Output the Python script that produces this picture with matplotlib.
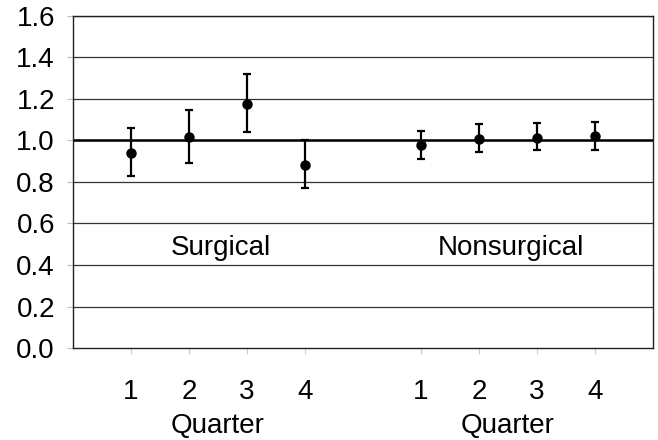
import matplotlib
matplotlib.use("Agg")
import matplotlib.pyplot as plt

plt.rcParams["font.family"] = ["Liberation Sans", "DejaVu Sans"]

# ── data ──────────────────────────────────────────────────────────────────────
quarters = ["1", "2", "3", "4"]
groups = ["Surgical", "Nonsurgical"]

surg_est = [0.94, 1.015, 1.175, 0.882]
surg_lo = [0.83, 0.89, 1.04, 0.773]
surg_hi = [1.062, 1.147, 1.32, 1.0]

nons_est = [0.978, 1.006, 1.014, 1.02]
nons_lo = [0.912, 0.945, 0.953, 0.954]
nons_hi = [1.043, 1.08, 1.083, 1.089]

yticks = [0.0, 0.2, 0.4, 0.6, 0.8, 1.0, 1.2, 1.4, 1.6]

FS = 20

# ── figure ────────────────────────────────────────────────────────────────────
fig = plt.figure(figsize=(6.58, 4.4), dpi=100)
ax = fig.add_axes([0.111, 0.209, 0.881, 0.755])

x_surg = [1, 2, 3, 4]
x_nons = [6, 7, 8, 9]

for xs, est, lo, hi in [(x_surg, surg_est, surg_lo, surg_hi),
                        (x_nons, nons_est, nons_lo, nons_hi)]:
    err = [[e - l for e, l in zip(est, lo)], [h - e for e, h in zip(est, hi)]]
    ax.errorbar(xs, est, yerr=err, fmt="o", color="black", ms=6.5,
                elinewidth=1.6, capsize=3.2, capthick=1.6, zorder=4)

# gridlines
for y in yticks[1:]:
    ax.axhline(y, color="#333333", lw=0.9, zorder=1)
ax.axhline(1.0, color="black", lw=1.8, zorder=2)

ax.set_xlim(0, 10)
ax.set_ylim(0, 1.6)
ax.set_yticks(yticks)
ax.set_yticklabels([f"{v:.1f}" for v in yticks], fontsize=FS)
ax.tick_params(axis="y", length=4, color="#bbbbbb", pad=9)

ax.set_xticks(x_surg + x_nons)
ax.set_xticklabels(quarters + quarters, fontsize=FS)
ax.tick_params(axis="x", length=4, color="#cccccc", pad=18)

for s in ax.spines.values():
    s.set_color("#222222")
    s.set_linewidth(1.0)

# group labels inside the plot
ax.text(2.55, 0.448, groups[0], ha="center", va="baseline", fontsize=FS)
ax.text(7.55, 0.448, groups[1], ha="center", va="baseline", fontsize=FS)

# "Quarter" under each group
for xc in [2.5, 7.5]:
    ax.text(xc, -0.41, "Quarter", ha="center", va="baseline", fontsize=FS)

fig.savefig("out.png", dpi=100)
